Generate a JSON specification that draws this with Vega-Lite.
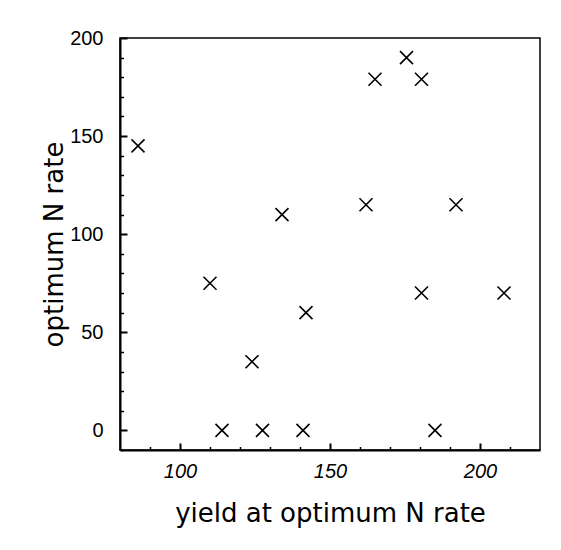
{
  "$schema": "https://vega.github.io/schema/vega-lite/v6.json",
  "width": 420,
  "height": 412,
  "autosize": "none",
  "padding": {"left": 120, "top": 38, "right": 21, "bottom": 100},
  "background": "white",
  "config": {
    "view": {"stroke": "black", "strokeWidth": 1.5},
    "axis": {
      "grid": false,
      "domainColor": "black",
      "domainWidth": 2,
      "labelColor": "black",
      "labelFont": "Liberation Sans",
      "labelFontSize": 20,
      "titleFont": "DejaVu Sans",
      "titleFontSize": 26,
      "titleFontWeight": "normal",
      "titleColor": "black"
    }
  },
  "data": {
    "values": [
      {"yield": 86, "rate": 145},
      {"yield": 110, "rate": 75},
      {"yield": 114, "rate": 0},
      {"yield": 124, "rate": 35},
      {"yield": 127.5, "rate": 0},
      {"yield": 134, "rate": 110},
      {"yield": 141, "rate": 0},
      {"yield": 142, "rate": 60},
      {"yield": 162, "rate": 115},
      {"yield": 165, "rate": 179},
      {"yield": 175.5, "rate": 190},
      {"yield": 180.5, "rate": 179},
      {"yield": 180.5, "rate": 70},
      {"yield": 185, "rate": 0},
      {"yield": 192, "rate": 115},
      {"yield": 208, "rate": 70}
    ]
  },
  "layer": [
    {
      "mark": {"type": "point", "shape": "M-1,-1L1,1M-1,1L1,-1", "filled": false, "stroke": "black", "strokeWidth": 1.6, "size": 169, "opacity": 1},
      "encoding": {
        "x": {
          "field": "yield", "type": "quantitative",
          "scale": {"domain": [80, 220], "nice": false, "zero": false},
          "axis": {"orient": "bottom", "values": [100, 150, 200], "ticks": true, "tickSize": -7, "tickColor": "black", "tickWidth": 2, "labelPadding": 18, "labelFontStyle": "italic", "title": "yield at optimum N rate", "titlePadding": 19}
        },
        "y": {
          "field": "rate", "type": "quantitative",
          "scale": {"domain": [-10, 200], "nice": false, "zero": false},
          "axis": {"orient": "left", "values": [0, 50, 100, 150, 200], "ticks": true, "tickSize": -7, "tickColor": "black", "tickWidth": 2, "labelPadding": 24, "title": "optimum N rate", "titlePadding": 2}
        }
      }
    },
    {
      "mark": {"type": "point", "opacity": 0},
      "encoding": {
        "x": {
          "field": "yield", "type": "quantitative",
          "axis": {"orient": "bottom", "values": [90, 110, 120, 130, 140, 160, 170, 180, 190, 210], "ticks": true, "tickSize": -3.5, "tickColor": "black", "tickWidth": 1.5, "labels": false, "domain": false, "title": null}
        },
        "y": {
          "field": "rate", "type": "quantitative",
          "axis": {"orient": "left", "values": [-10, 10, 20, 30, 40, 60, 70, 80, 90, 110, 120, 130, 140, 160, 170, 180, 190], "ticks": true, "tickSize": -3.5, "tickColor": "black", "tickWidth": 1.5, "labels": false, "domain": false, "title": null}
        }
      }
    }
  ],
  "resolve": {"axis": {"x": "independent", "y": "independent"}}
}
